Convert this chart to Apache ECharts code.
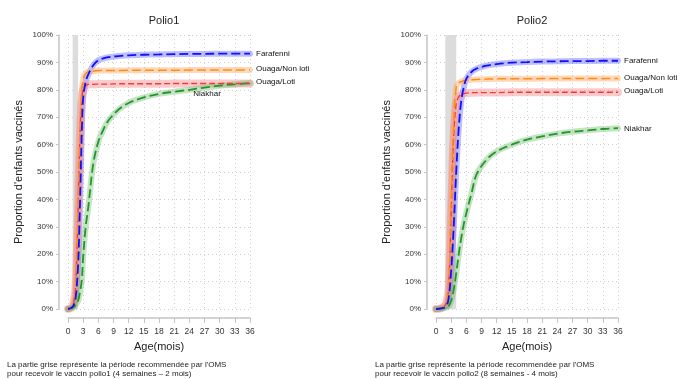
<!DOCTYPE html>
<html><head><meta charset="utf-8">
<script src="https://cdn.jsdelivr.net/npm/echarts@6/dist/echarts.min.js"></script>
<style>html,body{margin:0;padding:0;background:#fff}#c{width:677px;height:379px}</style>
</head><body><div id="c"></div>
<script>
// ---- data ----
const panelTitles = ['Polio1', 'Polio2'];
const seriesNames = ['Farafenni', 'Ouaga/Non loti', 'Ouaga/Loti', 'Niakhar'];
const xTicks = [0, 3, 6, 9, 12, 15, 18, 21, 24, 27, 30, 33, 36];
const recommended1 = [0.92, 2];   // 4 semaines - 2 mois
const recommended2 = [1.84, 4];   // 8 semaines - 4 mois

const months1 = [0, 0.5, 1, 1.5, 2, 2.25, 2.5, 2.75, 3, 3.5, 4, 5, 6, 7, 8, 10, 12, 15, 18, 21, 24, 27, 30, 33, 36];
const farafenni1 = [0, 0.3, 1, 4, 16, 30, 48, 66, 77, 83, 85.5, 89, 90.8, 91.5, 91.9, 92.3, 92.6, 92.8, 92.9, 93, 93.1, 93.1, 93.2, 93.2, 93.2];
const nonLoti1   = [0, 0.3, 1.5, 8, 38, 58, 72, 80, 84, 86, 86.5, 86.8, 87, 87, 87, 87, 87.1, 87.1, 87.1, 87.1, 87.2, 87.2, 87.2, 87.2, 87.2];
const loti1      = [0, 0.3, 1.5, 8, 36, 56, 70, 77, 80, 81.5, 82, 82, 82.1, 82.1, 82.1, 82.2, 82.2, 82.2, 82.2, 82.3, 82.3, 82.3, 82.3, 82.3, 82.3];
const niakhar1   = [0, 0.2, 0.5, 1.5, 3, 5, 7.5, 11, 19, 30, 37, 53, 61, 65.5, 68.8, 72.8, 75.2, 77.2, 78.5, 79.3, 80, 80.8, 81.5, 82, 82.5];

const months2 = [0, 1, 2, 2.5, 3, 3.5, 4, 4.5, 5, 5.5, 6, 7, 8, 10, 12, 15, 18, 21, 24, 27, 30, 33, 36];
const farafenni2 = [0, 0.2, 1, 4, 14, 30, 50, 66, 76, 81, 84, 86.5, 87.7, 88.8, 89.4, 89.9, 90.1, 90.3, 90.4, 90.5, 90.5, 90.6, 90.6];
const nonLoti2   = [0, 0.3, 2, 8, 40, 68, 81, 82.5, 83, 83.3, 83.5, 83.7, 83.8, 83.9, 84, 84, 84, 84.1, 84.1, 84.1, 84.1, 84.1, 84.1];
const loti2      = [0, 0.3, 2, 8, 36, 63, 75, 77.5, 78.3, 78.6, 78.8, 78.9, 79, 79, 79, 79.1, 79.1, 79.1, 79.1, 79.1, 79.1, 79.1, 79.1];
const niakhar2   = [0, 0.1, 0.5, 1, 3, 7, 13, 20, 26, 31, 35, 42, 49, 54.5, 57.5, 60, 61.8, 63, 64, 64.7, 65.2, 65.7, 66];

// ---- style ----
const lineColors = ['#1010ff', '#ff8c1a', '#f03a3a', '#22962a'];
const bandColors = ['rgba(70,70,255,0.35)', 'rgba(253,170,100,0.45)', 'rgba(245,130,130,0.42)', 'rgba(100,185,100,0.38)'];
const bandWidths = [6, 6, 8, 6];
const dashTypes = [[9, 4], [9, 4], [6, 3], [9, 4]];
const lineWidths = [1.8, 1.5, 1.3, 1.8];
const FONT = 'Liberation Sans, Arial, sans-serif';

const panels = [
  { months: months1, values: [farafenni1, nonLoti1, loti1, niakhar1], rec: recommended1,
    labelOffsets: [[0, 0], [0, -1], [0, -2], null] },
  { months: months2, values: [farafenni2, nonLoti2, loti2, niakhar2], rec: recommended2,
    labelOffsets: [[0, 0], [0, -1], [0, -1], [0, 1]] }
];

const gridLefts = [68, 436];
const grids = [], xAxes = [], yAxes = [], titles = [], series = [];

panels.forEach((p, gi) => {
  grids.push({ left: gridLefts[gi], top: 35, width: 182, height: 274 });
  titles.push({ text: panelTitles[gi], left: gridLefts[gi] + 91, top: 10, textAlign: 'center',
    textStyle: { fontFamily: FONT, fontSize: 11, fontWeight: 'normal', color: '#222' } });
  xAxes.push({
    type: 'value', gridIndex: gi, min: 0, max: 36, interval: 3, offset: 9,
    name: 'Age(mois)', nameLocation: 'middle', nameGap: 23,
    nameTextStyle: { fontFamily: FONT, fontSize: 11, color: '#222' },
    axisLine: { show: true, onZero: false, lineStyle: { color: '#c4c4c4', width: 1.5 } },
    axisTick: { show: true, length: 5, lineStyle: { color: '#c4c4c4', width: 1 } },
    axisLabel: { fontFamily: FONT, fontSize: 8.5, color: '#333', margin: 9, customValues: xTicks },
    splitLine: { show: true, lineStyle: { color: '#cfcfcf', type: [1, 3], width: 1 } }
  });
  yAxes.push({
    type: 'value', gridIndex: gi, min: 0, max: 100, interval: 10, offset: 9,
    name: "Proportion d'enfants vaccinés", nameLocation: 'middle', nameGap: 35,
    nameTextStyle: { fontFamily: FONT, fontSize: 11, color: '#222' },
    axisLine: { show: true, onZero: false, lineStyle: { color: '#c4c4c4', width: 1.5 } },
    axisTick: { show: true, length: 3, lineStyle: { color: '#c4c4c4' } },
    axisLabel: { fontFamily: FONT, fontSize: 8, color: '#333', margin: 6, formatter: '{value}%' },
    splitLine: { show: true, lineStyle: { color: '#cfcfcf', type: [1, 3], width: 1 } }
  });

  // confidence bands (thick translucent lines)
  p.values.forEach((vals, si) => {
    const s = {
      type: 'line', xAxisIndex: gi, yAxisIndex: gi, silent: true, z: 2,
      data: p.months.map((m, i) => [m, vals[i]]),
      showSymbol: false, smooth: 0.35,
      lineStyle: { color: bandColors[si], width: bandWidths[si], cap: 'round' }
    };
    if (si === 0) {
      s.markArea = { silent: true, itemStyle: { color: '#dcdcdc' },
        data: [[{ xAxis: p.rec[0], yAxis: 0 }, { xAxis: p.rec[1], yAxis: 100 }]] };
    }
    series.push(s);
  });
  // dashed centre lines, drawn so blue is on top
  [3, 2, 1, 0].forEach(si => {
    const vals = p.values[si];
    const s = {
      type: 'line', name: seriesNames[si], xAxisIndex: gi, yAxisIndex: gi, silent: true, z: 3,
      data: p.months.map((m, i) => [m, vals[i]]),
      showSymbol: false, smooth: 0.35,
      lineStyle: { color: lineColors[si], width: lineWidths[si], type: dashTypes[si] }
    };
    if (p.labelOffsets[si]) {
      s.endLabel = { show: true, formatter: seriesNames[si], distance: 6, offset: p.labelOffsets[si],
        fontFamily: FONT, fontSize: 8, color: '#111' };
    } else {
      s.markPoint = { symbol: 'circle', symbolSize: 0, silent: true,
        data: [{ coord: [27.5, 78.5] }],
        label: { show: true, formatter: seriesNames[si], fontFamily: FONT, fontSize: 8, color: '#111' } };
    }
    series.push(s);
  });
});

const chart = echarts.init(document.getElementById('c'), null, { renderer: 'canvas' });
chart.setOption({
  animation: false,
  backgroundColor: '#fff',
  title: titles,
  grid: grids, xAxis: xAxes, yAxis: yAxes, series: series,
  graphic: [
    { type: 'text', left: 7, top: 360, style: { text: "La partie grise représente la période recommendée par l'OMS\npour recevoir le vaccin polio1 (4 semaines – 2 mois)", font: '8px ' + FONT, fill: '#222', lineHeight: 9 } },
    { type: 'text', left: 375, top: 360, style: { text: "La partie grise représente la période recommendée par l'OMS\npour recevoir le vaccin polio2 (8 semaines - 4 mois)", font: '8px ' + FONT, fill: '#222', lineHeight: 9 } }
  ]
});
</script></body></html>
